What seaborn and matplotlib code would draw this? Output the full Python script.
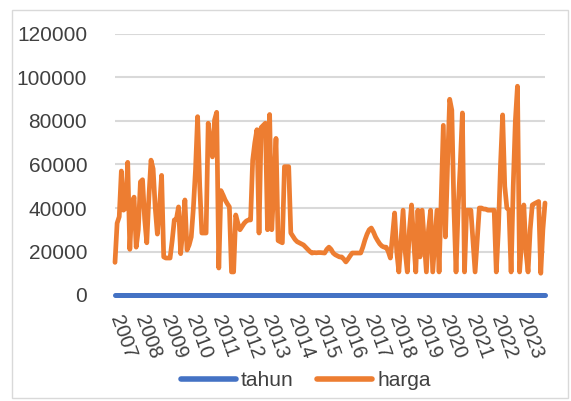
import numpy as np
import pandas as pd
import matplotlib
matplotlib.use("Agg")
import matplotlib.pyplot as plt
import seaborn as sns

# ---- data (monthly, Jan 2007 .. Dec 2023) ----
years = [str(y) for y in range(2007, 2024)]

harga_2007 = [15000, 33000, 36000, 57000, 39000, 40000, 61000, 21000, 42000, 45000, 22000, 30000]
harga_2008 = [52000, 53000, 35000, 24000, 45000, 62000, 58000, 40000, 28000, 40000, 55000, 17500]
harga_2009 = [17000, 17000, 17000, 25000, 34500, 35000, 40500, 19000, 30000, 43700, 20700, 23000]
harga_2010 = [26700, 40000, 57500, 82000, 50000, 28500, 28500, 28500, 79000, 70000, 63500, 80500]
harga_2011 = [84000, 12400, 48000, 46000, 43700, 42000, 40500, 10600, 10600, 36800, 33000, 30000]
harga_2012 = [31500, 33000, 34000, 34500, 34500, 62000, 70000, 76000, 28500, 77000, 78000, 79000]
harga_2013 = [30000, 83000, 30000, 50000, 72000, 25000, 24500, 24000, 59000, 59000, 59000, 28500]
harga_2014 = [27000, 25500, 24500, 24000, 23500, 23000, 22000, 21000, 20000, 19300, 19500, 19400]
harga_2015 = [19500, 19500, 19400, 19300, 21000, 22000, 21000, 19300, 18500, 18000, 17500, 17500]
harga_2016 = [16500, 15200, 16500, 18000, 19300, 19300, 19300, 19300, 19300, 22000, 25300, 28000]
harga_2017 = [30000, 30800, 29000, 26700, 25000, 23500, 22500, 22000, 22000, 20000, 17000, 27000]
harga_2018 = [37700, 20000, 10600, 25000, 39000, 20000, 10600, 30000, 41400, 25000, 10600, 39000]
harga_2019 = [17500, 39000, 25000, 10600, 30000, 39000, 10600, 25000, 39000, 10600, 45000, 78000]
harga_2020 = [26700, 60000, 90000, 85000, 40000, 10600, 40000, 60000, 83700, 10600, 39000, 39000]
harga_2021 = [39000, 25000, 10600, 25000, 40000, 40000, 39500, 39500, 39000, 39000, 39000, 39000]
harga_2022 = [10600, 30000, 60000, 82800, 50000, 40000, 39000, 10600, 50000, 80000, 96000, 10600]
harga_2023 = [25000, 41400, 20000, 10600, 30000, 41400, 42000, 42500, 43000, 10000, 30000, 42300]

harga = (harga_2007 + harga_2008 + harga_2009 + harga_2010 + harga_2011 + harga_2012 +
         harga_2013 + harga_2014 + harga_2015 + harga_2016 + harga_2017 + harga_2018 +
         harga_2019 + harga_2020 + harga_2021 + harga_2022 + harga_2023)
# "tahun" series is drawn on the zero line in the picture
tahun = [0] * len(harga)

series_names = ["tahun", "harga"]
colors = ["#4472C4", "#ED7D31"]

n = len(harga)
idx = list(range(n))
df = pd.DataFrame({
    "idx": idx * 2,
    "value": tahun + harga,
    "series": ["tahun"] * n + ["harga"] * n,
})

# ---- figure ----
W, H = 571, 401
fig = plt.figure(figsize=(W / 100, H / 100), dpi=100)
sns.set_style("white")
plt.rcParams["font.family"] = ["Liberation Sans", "DejaVu Sans"]

left, right, top, bottom = 115, 545, 34, 295
ax = fig.add_axes([left / W, 1 - bottom / H, (right - left) / W, (bottom - top) / H])

sns.lineplot(data=df, x="idx", y="value", hue="series", hue_order=series_names,
             palette=colors, linewidth=3.4, estimator=None, sort=True, ax=ax,
             legend=True)
for ln in ax.get_lines():
    ln.set_solid_joinstyle("round")
    ln.set_solid_capstyle("round")
    ln.set_clip_on(False)
ax.get_lines()[0].set_linewidth(3.6)

ax.set_xlim(0, n - 1)
ax.set_ylim(0, 120000)
ax.set_yticks(range(0, 120001, 20000))
ax.set_yticklabels([str(v) for v in range(0, 120001, 20000)])
ax.grid(axis="y", color="#D9D9D9", linewidth=1.5)
ax.set_axisbelow(True)
for s in ax.spines.values():
    s.set_visible(False)
ax.set_xlabel("")
ax.set_ylabel("")

ax.set_xticks(list(range(0, n, 12)))
ax.set_xticklabels(years, rotation=-70, ha="left", va="center", rotation_mode="anchor")
ax.tick_params(axis="x", length=0, pad=15, labelsize=14.5, labelcolor="#404040")
ax.tick_params(axis="y", length=0, pad=20, labelsize=15, labelcolor="#404040")

# legend
handles, labels = ax.get_legend_handles_labels()
ax.legend_.remove()
leg = fig.legend(handles, labels, loc="center", bbox_to_anchor=(305.5 / W, 1 - 381 / H),
                 ncol=2, frameon=False, fontsize=15, handlelength=2.65,
                 handletextpad=0.25, columnspacing=1.1, labelcolor="#404040")
for h in leg.get_lines():
    h.set_linewidth(4)
    h.set_solid_capstyle("round")

# chart-area border
fig.patches.append(plt.Rectangle((12 / W, 1 - 398 / H), (568 - 12) / W, (398 - 10) / H,
                                 transform=fig.transFigure, fill=False,
                                 edgecolor="#D9D9D9", linewidth=1))

fig.savefig("out.png", dpi=100)
